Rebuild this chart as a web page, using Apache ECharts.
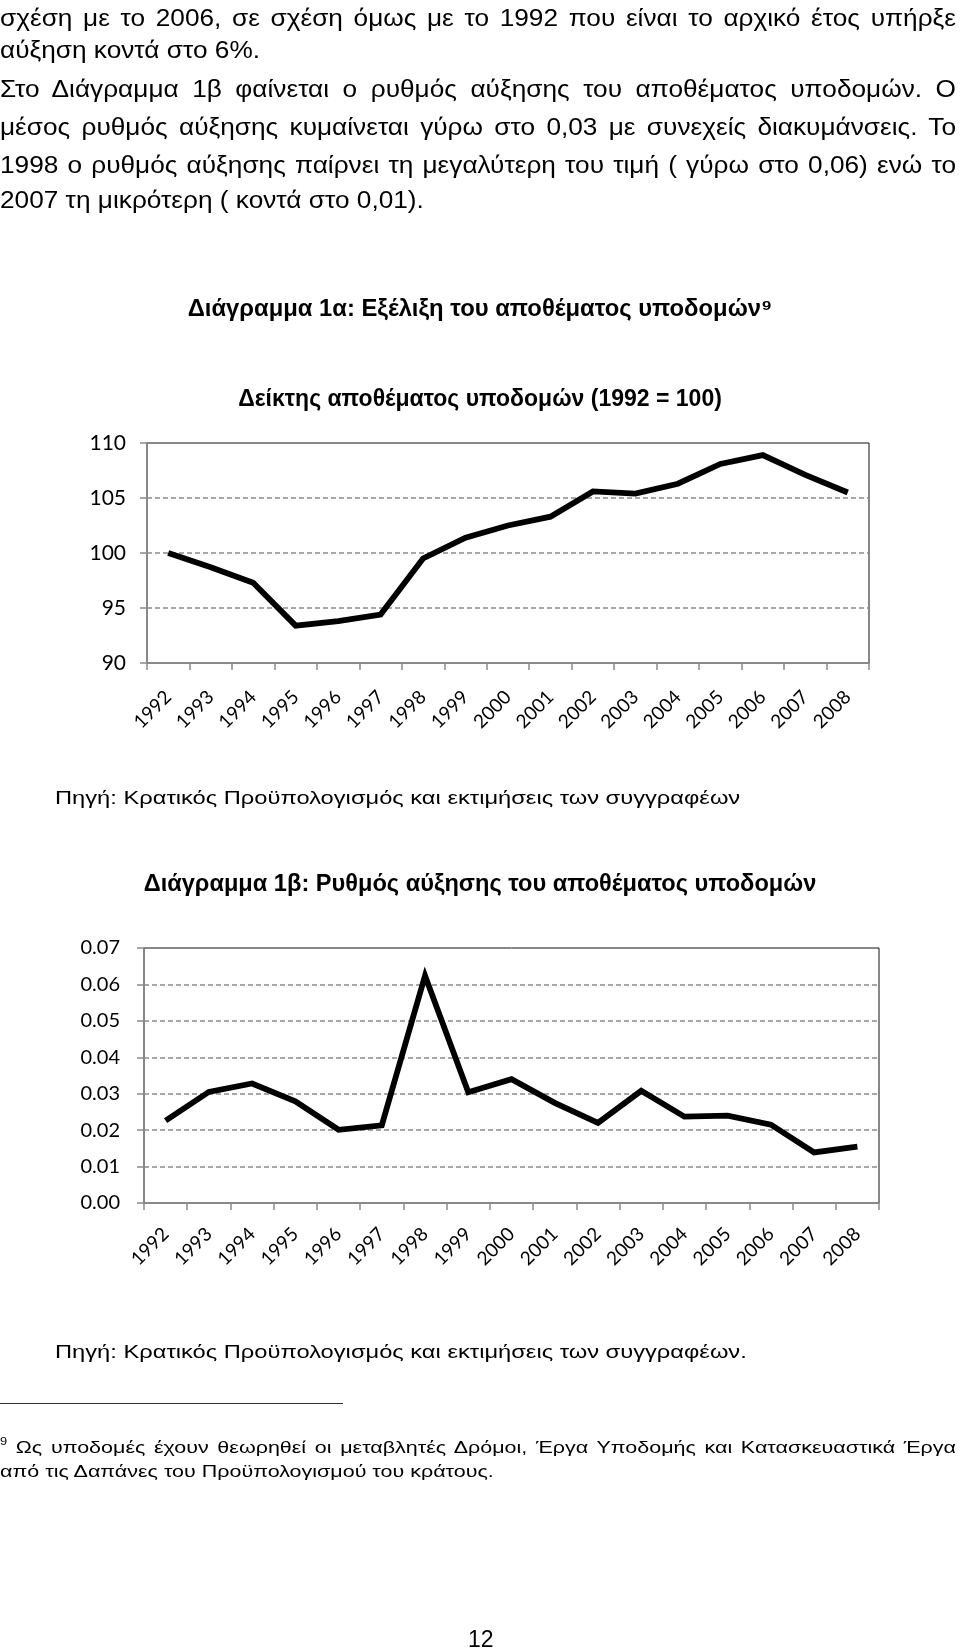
<!DOCTYPE html>
<html>
<head>
<meta charset="utf-8">
<script src="https://cdn.jsdelivr.net/npm/echarts@6/dist/echarts.min.js"></script>
<style>
html,body{margin:0;padding:0;background:#fff;}
#page{position:relative;width:960px;height:1651px;overflow:hidden;background:#fff;}
#chart{position:absolute;left:0;top:0;width:960px;height:1651px;}
.ln{position:absolute;left:0;font-family:'Liberation Sans',Arial,sans-serif;color:#000;transform-origin:0 50%;white-space:normal;z-index:2;}
.j{text-align:justify;text-align-last:justify;}
.hr{position:absolute;left:0;top:1403px;width:343px;height:0;border-top:1px solid #333;}
sup{line-height:0;}
</style>
</head>
<body>
<div id="page">
  <div id="chart"></div>
</div>
<script>
// ---- data ----
const years = ['1992','1993','1994','1995','1996','1997','1998','1999','2000','2001','2002','2003','2004','2005','2006','2007','2008'];
const stockIndex = [100.0, 98.7, 97.3, 93.4, 93.8, 94.4, 99.5, 101.4, 102.5, 103.3, 105.6, 105.4, 106.3, 108.1, 108.9, 107.1, 105.5];
const growthRate = [0.0226, 0.0305, 0.0328, 0.0279, 0.0201, 0.0213, 0.0624, 0.0304, 0.0340, 0.0275, 0.0220, 0.0308, 0.0237, 0.0240, 0.0215, 0.0139, 0.0155];

const bodyLines = [
  {t:'σχέση με το 2006, σε σχέση όμως με το 1992 που είναι το αρχικό έτος υπήρξε', y:18, j:true},
  {t:'αύξηση κοντά στο 6%.', y:50, j:false},
  {t:'Στο Διάγραμμα 1β φαίνεται ο ρυθμός αύξησης του αποθέματος υποδομών. Ο', y:89, j:true},
  {t:'μέσος ρυθμός αύξησης κυμαίνεται γύρω στο 0,03 με συνεχείς διακυμάνσεις. Το', y:127, j:true},
  {t:'1998 ο ρυθμός αύξησης παίρνει τη μεγαλύτερη του τιμή ( γύρω στο 0,06) ενώ το', y:165, j:true},
  {t:'2007 τη μικρότερη ( κοντά στο 0,01).', y:200, j:false}
];
const sourceText1 = 'Πηγή: Κρατικός Προϋπολογισμός και εκτιμήσεις των συγγραφέων';
const sourceText2 = 'Πηγή: Κρατικός Προϋπολογισμός και εκτιμήσεις των συγγραφέων.';
const footLine1 = 'Ως υποδομές έχουν θεωρηθεί οι μεταβλητές Δρόμοι, Έργα Υποδομής και Κατασκευαστικά Έργα';
const footLine2 = 'από τις Δαπάνες του Προϋπολογισμού του κράτους.';
const caption1 = 'Διάγραμμα 1α: Εξέλιξη του αποθέματος υποδομών';
const chartTitle1 = 'Δείκτης αποθέματος υποδομών (1992 = 100)';
const caption2 = 'Διάγραμμα 1β: Ρυθμός αύξησης του αποθέματος υποδομών';
const pageNo = '12';

// ---- prose (HTML) ----
const page = document.getElementById('page');
function addLine(text, yc, opts) {
  const d = document.createElement('div');
  d.className = 'ln' + (opts.j ? ' j' : '');
  const fs = opts.fs || 23, lh = opts.lh || 30, sx = opts.sx || 1.14;
  d.style.fontSize = fs + 'px';
  d.style.lineHeight = lh + 'px';
  d.style.height = lh + 'px';
  d.style.top = (yc - lh / 2) + 'px';
  d.style.left = (opts.x || 0) + 'px';
  d.style.width = ((opts.w || 956) / sx) + 'px';
  d.style.transform = 'scaleX(' + sx + ')';
  if (opts.html) d.innerHTML = text; else d.textContent = text;
  page.appendChild(d);
}
bodyLines.forEach(l => addLine(l.t, l.y, {j:l.j}));
addLine(sourceText1, 798, {x:55, w:850, fs:18.5, sx:1.28});
addLine(sourceText2, 1352, {x:55, w:850, fs:18.5, sx:1.28});
const hr = document.createElement('div'); hr.className = 'hr'; page.appendChild(hr);
addLine('<sup style="font-size:10px;vertical-align:8px">9</sup> ' + footLine1, 1448, {j:true, fs:16.8, lh:26, html:true, sx:1.28});
addLine(footLine2, 1472, {fs:16.8, lh:26, sx:1.28});
addLine(pageNo, 1639, {x:468, w:60, fs:23, sx:1.0});

// ---- charts ----
const axisFont = "Lato, 'Open Sans', sans-serif";
const titleFont = "'Liberation Sans', Arial, sans-serif";
const gray = '#8a8a8a';

function yAxisCfg(gi, min, max, interval, fs, margin, fmt) {
  return {
    gridIndex: gi, type: 'value', min: min, max: max, interval: interval,
    axisLine: {show: true, lineStyle: {color: gray, width: 1.5}},
    axisTick: {show: true, length: 7, lineStyle: {color: gray, width: 1.5}},
    axisLabel: {color: '#000', fontSize: fs, fontFamily: axisFont, margin: margin, formatter: fmt},
    splitLine: {show: true, showMinLine: false, showMaxLine: false, lineStyle: {color: gray, type: [5, 3], width: 1.5}}
  };
}
function xAxisCfg(gi, margin) {
  return {
    gridIndex: gi, type: 'category', data: years, boundaryGap: true,
    axisLine: {show: true, lineStyle: {color: gray, width: 1.5}},
    axisTick: {show: true, length: 7, alignWithLabel: false, lineStyle: {color: gray, width: 1.5}},
    axisLabel: {rotate: 45, interval: 0, fontSize: 19, color: '#000', fontFamily: axisFont, margin: margin},
    splitLine: {show: false}
  };
}

const chart = echarts.init(document.getElementById('chart'), null, {renderer: 'canvas'});
chart.setOption({
  animation: false,
  backgroundColor: 'transparent',
  title: [
    {text: caption1 + '⁹', left: 'center', top: 290,
     textStyle: {fontFamily: titleFont, fontWeight: 'bold', fontSize: 23.8, color: '#000', lineHeight: 28}},
    {text: chartTitle1, left: 'center', top: 381,
     textStyle: {fontFamily: titleFont, fontWeight: 'bold', fontSize: 23, color: '#000', lineHeight: 28}},
    {text: caption2, left: 'center', top: 865,
     textStyle: {fontFamily: titleFont, fontWeight: 'bold', fontSize: 23.6, color: '#000', lineHeight: 28}}
  ],
  grid: [
    {left: 147, top: 443, width: 722, height: 220, show: true, borderColor: '#111', borderWidth: 1, backgroundColor: 'transparent', containLabel: false},
    {left: 144, top: 948, width: 735, height: 255, show: true, borderColor: '#111', borderWidth: 1, backgroundColor: 'transparent', containLabel: false}
  ],
  xAxis: [xAxisCfg(0, 31), xAxisCfg(1, 28)],
  yAxis: [
    yAxisCfg(0, 90, 110, 5, 21, 21, v => String(v)),
    yAxisCfg(1, 0, 0.07, 0.01, 20, 24, v => v.toFixed(2))
  ],
  series: [
    {type: 'line', xAxisIndex: 0, yAxisIndex: 0, data: stockIndex, showSymbol: false, symbol: 'none',
     lineStyle: {color: '#000', width: 5.8, join: 'miter'}, itemStyle: {color: '#000'}},
    {type: 'line', xAxisIndex: 1, yAxisIndex: 1, data: growthRate, showSymbol: false, symbol: 'none',
     lineStyle: {color: '#000', width: 5.8, join: 'miter'}, itemStyle: {color: '#000'}}
  ]
});
</script>
</body>
</html>
